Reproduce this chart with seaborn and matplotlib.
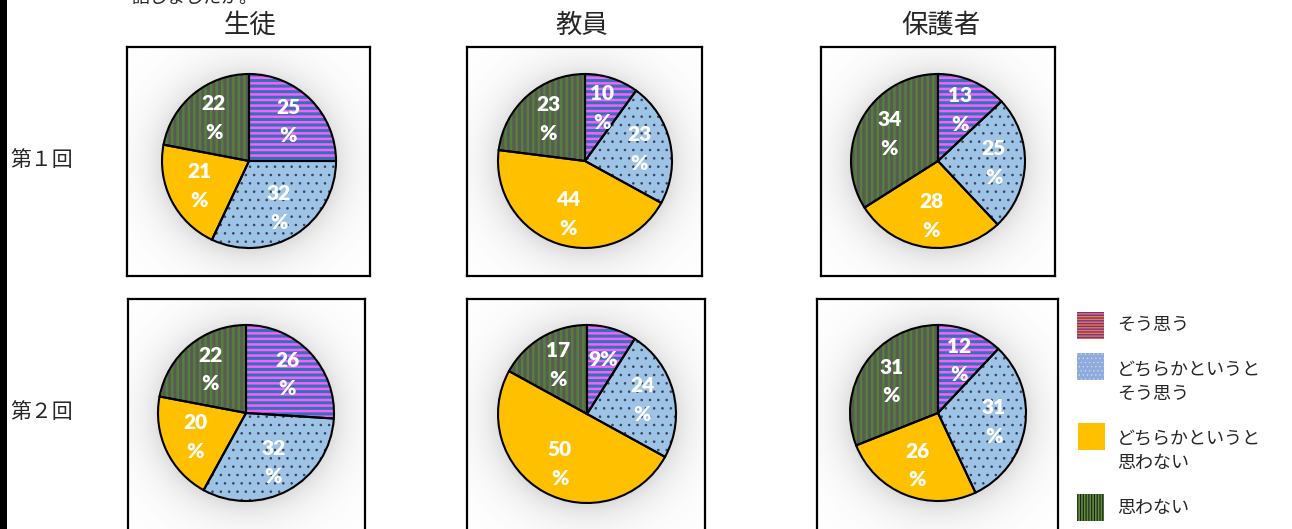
import numpy as np
import matplotlib
matplotlib.use("Agg")
import matplotlib.pyplot as plt
import seaborn as sns
from matplotlib.patches import Rectangle

# ---- data -------------------------------------------------------------
groups = ["生徒", "教員", "保護者"]
rounds = ["第１回", "第２回"]
answers = ["そう思う", "どちらかというと\nそう思う", "どちらかというと\n思わない", "思わない"]

students_r1 = [25, 32, 21, 22]
teachers_r1 = [10, 23, 44, 23]
parents_r1 = [13, 25, 28, 34]
students_r2 = [26, 32, 20, 22]
teachers_r2 = [9, 24, 50, 17]
parents_r2 = [12, 31, 26, 31]

question_tail = "話しましたか。"

# ---- style ------------------------------------------------------------
sns.set_theme(style="white")
plt.rcParams["font.family"] = ["Noto Sans CJK JP", "DejaVu Sans"]

face_colors = sns.color_palette(["#FF5BFF", "#9DC3E6", "#FFC000", "#548235"])
hatch_colors = ["#2E75B6", "#3B3F55", "#FFC000", "#595959"]
hatches = ["---", "..", "", "|||"]
hatch_widths = [2.2, 0.6, 0.0, 2.2]

W, H = 1292, 529
fig = plt.figure(figsize=(W / 100, H / 100), dpi=100)

# panel frames (pixels: x0, y0, x1, y1) and pie centre / radius
frames = [
    [(127, 47, 370, 276), (467, 47, 702, 276), (821, 47, 1055, 276)],
    [(128, 299, 365, 545), (467, 299, 705, 545), (817, 299, 1058, 545)],
]
centres = [
    [(249, 161, 87), (585, 161, 87), (938, 161, 87)],
    [(246, 413, 88), (587, 414, 89), (938, 413, 88)],
]
table = [[students_r1, teachers_r1, parents_r1],
         [students_r2, teachers_r2, parents_r2]]


def pct_label(v):
    return f"{v}%" if v < 10 else f"{v}\n%"


def set_hatch_lw(patch, lw):
    if hasattr(patch, "set_hatch_linewidth"):
        patch.set_hatch_linewidth(lw)


for r in range(2):
    for c in range(3):
        x0, y0, x1, y1 = frames[r][c]
        cx, cy, R = centres[r][c]
        ax = fig.add_axes([x0 / W, 1 - y1 / H, (x1 - x0) / W, (y1 - y0) / H])
        xl = ((x0 - cx) / R, (x1 - cx) / R)
        yl = ((cy - y1) / R, (cy - y0) / R)

        # soft glow behind the pie
        gx = np.linspace(xl[0], xl[1], 300)
        gy = np.linspace(yl[0], yl[1], 300)
        GX, GY = np.meshgrid(gx, gy)
        D = np.hypot(GX, GY + 0.03)
        A = np.where(D > 1, 0.20 * np.exp(-(D - 1) / 0.22), 0.20)
        img = np.zeros(GX.shape + (4,))
        img[..., :3] = 0.35
        img[..., 3] = A
        ax.imshow(img, extent=(xl[0], xl[1], yl[0], yl[1]), origin="lower",
                  aspect="auto", interpolation="bilinear", zorder=0)

        vals = table[r][c]
        wedges, texts = ax.pie(
            vals, startangle=90, counterclock=False, colors=face_colors,
            labels=[pct_label(v) for v in vals], labeldistance=0.64,
            frame=True,
            textprops=dict(color="white", fontsize=15, fontweight="heavy",
                           family=["Lato", "DejaVu Sans"], linespacing=1.6),
        )
        for w, h, hc, hl in zip(wedges, hatches, hatch_colors, hatch_widths):
            w.set_zorder(1)
            if h:
                w.set_hatch(h)
                set_hatch_lw(w, hl)
            w.set_edgecolor(hc)
            w.set_linewidth(0)
        for t in texts:
            t.set_ha("center")
            t.set_va("center")
            t.set_zorder(5)
        outline, _ = ax.pie(vals, startangle=90, counterclock=False,
                            colors=["none"] * len(vals), frame=True,
                            wedgeprops=dict(edgecolor="black", linewidth=1.5))
        for w in outline:
            w.set_zorder(3)

        ax.set_aspect("auto")
        ax.set_xlim(*xl)
        ax.set_ylim(*yl)
        ax.set_xticks([])
        ax.set_yticks([])
        for s in ax.spines.values():
            s.set_visible(True)
            s.set_color("black")
            s.set_linewidth(1.6)

# ---- overlay for titles, row labels and legend (pixel coordinates) ----
ov = fig.add_axes([0, 0, 1, 1], zorder=10)
ov.set_xlim(0, W)
ov.set_ylim(H, 0)
ov.axis("off")
ov.patch.set_alpha(0)

ov.add_patch(Rectangle((0, 0), 7, H, facecolor="black", edgecolor="none"))
ov.text(131, 3, question_tail, fontsize=13, ha="left", va="baseline")

title_x = [250, 582, 941]
for x, g in zip(title_x, groups):
    ov.text(x, 25, g, fontsize=19, ha="center", va="center")

for y, lab in zip([160, 412], rounds):
    ov.text(10, y, lab, fontsize=15, ha="left", va="center")

legend_boxes = [(1077, 312), (1077, 353), (1078, 423), (1077, 494)]
legend_face = ["#ED7D31", "#8FAADC", "#FFC000", "#1E1E1E"]
legend_hatch = ["------", "....", "", "||||||"]
legend_hcol = ["#7030A0", "#C9D7EE", "#FFC000", "#5E8F38"]
legend_hlw = [1.0, 0.5, 0.0, 1.2]
legend_text_y = [325, 381.5, 451, 508]
for (bx, by), fc, h, hc, hl, ty, lab in zip(legend_boxes, legend_face, legend_hatch,
                                            legend_hcol, legend_hlw, legend_text_y, answers):
    rect = Rectangle((bx, by), 27, 27, facecolor=fc, edgecolor=hc, linewidth=0, hatch=h or None)
    set_hatch_lw(rect, hl)
    ov.add_patch(rect)
    ov.text(1117, ty, lab, fontsize=13, ha="left", va="center", linespacing=1.45)

fig.savefig("out.png", dpi=100)
